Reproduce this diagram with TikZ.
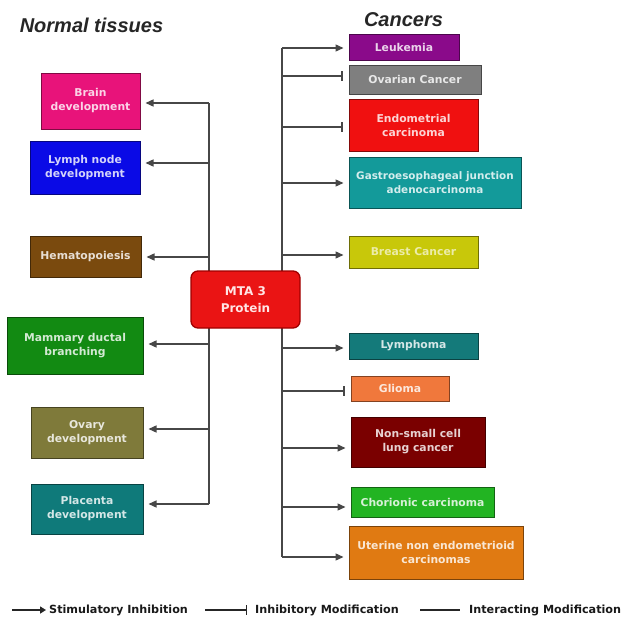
\documentclass[tikz,border=0pt]{standalone}
\usepackage{fontspec}
\setmainfont{DejaVu Sans}
\newfontfamily\titlefont{Liberation Sans}
\usetikzlibrary{arrows.meta}
\definecolor{linec}{HTML}{474747}
\definecolor{cbrain}{HTML}{E8137A}
\definecolor{clymph}{HTML}{0A0AE6}
\definecolor{chemato}{HTML}{7A4A0E}
\definecolor{cmammary}{HTML}{128A12}
\definecolor{covary}{HTML}{7F7A3A}
\definecolor{cplacenta}{HTML}{0F7A7A}
\definecolor{cmta}{HTML}{EA1414}
\definecolor{cmtadark}{HTML}{A00000}
\definecolor{cleuk}{HTML}{8A0A8A}
\definecolor{covarian}{HTML}{7F7F7F}
\definecolor{cendo}{HTML}{F01010}
\definecolor{cgastro}{HTML}{139A9A}
\definecolor{cbreast}{HTML}{C8C80A}
\definecolor{clymphoma}{HTML}{147A7A}
\definecolor{cglioma}{HTML}{F0783C}
\definecolor{cnsclc}{HTML}{7A0000}
\definecolor{cchorio}{HTML}{22B422}
\definecolor{cuterine}{HTML}{E07A12}
\begin{document}
\begin{tikzpicture}[x=1pt,y=-1pt,
  box/.style={fill=#1, draw=#1!55!black, line width=1pt, text=#1!18!white,
    inner sep=0pt, align=center, font=\bfseries\fontsize{10.8}{14}\selectfont},
  conn/.style={draw=linec, line width=1.3pt},
  stim/.style={conn, -{Triangle[length=8pt,width=7pt]}, shorten >=5pt},
  inhib/.style={conn, -{Bar[width=10pt,line width=1.3pt]}, shorten >=6pt},
  title/.style={font=\titlefont\bfseries\itshape\fontsize{20}{23}\selectfont, text=black!85},
  legend/.style={anchor=west, inner sep=0pt, font=\bfseries\fontsize{11.2}{13}\selectfont, text=black!90}
]
\useasboundingbox (0,0) rectangle (624,616);

% trunks
\coordinate (l1) at (209,103);
\coordinate (l2) at (209,163);
\coordinate (l3) at (209,257);
\coordinate (l4) at (209,344);
\coordinate (l5) at (209,429);
\coordinate (l6) at (209,504);
\coordinate (r1) at (282,48);
\coordinate (r2) at (282,76);
\coordinate (r3) at (282,127);
\coordinate (r4) at (282,183);
\coordinate (r5) at (282,255);
\coordinate (r6) at (282,348);
\coordinate (r7) at (282,391);
\coordinate (r8) at (282,448);
\coordinate (r9) at (282,507);
\coordinate (r10) at (282,557);
\draw[conn] (l1) -- (l6);
\draw[conn] (r1) -- (r10);

% titles
\node[title] (tn) at (91.5,25) {Normal tissues};
\node[title] (tc) at (403.5,20) {Cancers};

% left boxes
\node[box=cbrain, minimum width=99pt, minimum height=56pt] (brain) at (90.5,101) {Brain\\development};
\node[box=clymph, minimum width=110pt, minimum height=53pt] (lymph) at (85,167.5) {Lymph node\\development};
\node[box=chemato, minimum width=111pt, minimum height=41pt] (hemato) at (85.5,256.5) {Hematopoiesis};
\node[box=cmammary, minimum width=136pt, minimum height=57pt] (mammary) at (75,345.5) {Mammary ductal\\branching};
\node[box=covary, minimum width=112pt, minimum height=51pt] (ovary) at (87,432.5) {Ovary\\development};
\node[box=cplacenta, minimum width=112pt, minimum height=50pt] (placenta) at (87,509) {Placenta\\development};

% center
\node[box=cmta, draw=cmtadark, text=white!90!red, line width=1.3pt, rounded corners=7pt,
  font=\bfseries\fontsize{12}{17}\selectfont,
  minimum width=109pt, minimum height=57pt] (mta) at (245.5,299.5) {MTA 3\\Protein};

% right boxes
\node[box=cleuk, minimum width=110pt, minimum height=26pt] (leuk) at (404,47) {Leukemia};
\node[box=covarian, minimum width=132pt, minimum height=29pt] (ovarian) at (415,79.5) {Ovarian Cancer};
\node[box=cendo, minimum width=129pt, minimum height=52pt] (endo) at (413.5,125) {Endometrial\\carcinoma};
\node[box=cgastro, font=\bfseries\fontsize{10.4}{14}\selectfont, minimum width=172pt, minimum height=51pt] (gastro) at (435,182.5) {Gastroesophageal junction\\adenocarcinoma};
\node[box=cbreast, text=cbreast!35!white, minimum width=129pt, minimum height=32pt] (breast) at (413.5,252) {Breast Cancer};
\node[box=clymphoma, minimum width=129pt, minimum height=26pt] (lymphoma) at (413.5,346) {Lymphoma};
\node[box=cglioma, minimum width=98pt, minimum height=25pt] (glioma) at (400,388.5) {Glioma};
\node[box=cnsclc, minimum width=134pt, minimum height=50pt] (nsclc) at (418,442) {Non-small cell\\lung cancer};
\node[box=cchorio, minimum width=143pt, minimum height=30pt] (chorio) at (422.5,502) {Chorionic carcinoma};
\node[box=cuterine, minimum width=174pt, minimum height=53pt] (uterine) at (436,552.5) {Uterine non endometrioid\\carcinomas};

% left connectors
\draw[stim] (l1) -- (l1 -| brain.east);
\draw[stim] (l2) -- (l2 -| lymph.east);
\draw[stim] (l3) -- (l3 -| hemato.east);
\draw[stim] (l4) -- (l4 -| mammary.east);
\draw[stim] (l5) -- (l5 -| ovary.east);
\draw[stim] (l6) -- (l6 -| placenta.east);

% right connectors
\draw[stim] (r1) -- (r1 -| leuk.west);
\draw[inhib] (r2) -- (r2 -| ovarian.west);
\draw[inhib] (r3) -- (r3 -| endo.west);
\draw[stim] (r4) -- (r4 -| gastro.west);
\draw[stim] (r5) -- (r5 -| breast.west);
\draw[stim] (r6) -- (r6 -| lymphoma.west);
\draw[inhib] (r7) -- (r7 -| glioma.west);
\draw[stim] (r8) -- (r8 -| nsclc.west);
\draw[stim] (r9) -- (r9 -| chorio.west);
\draw[stim] (r10) -- (r10 -| uterine.west);

% legend
\node[legend] (ls) at (49,610) {Stimulatory Inhibition};
\node[legend] (li) at (255,610) {Inhibitory Modification};
\node[legend] (lm) at (469,610) {Interacting Modification};
\coordinate (ls0) at (12,610);
\coordinate (li0) at (205,610);
\coordinate (lm0) at (420,610);
\draw[black!85, line width=2.6pt, -{Triangle[length=6pt,width=7pt]}, shorten >=3pt] (ls0) -- (ls.west);
\draw[black!85, line width=1.3pt, -{Bar[width=10pt,line width=1.3pt]}, shorten >=8pt] (li0) -- (li.west);
\draw[black!85, line width=2.6pt, shorten >=9pt] (lm0) -- (lm.west);
\end{tikzpicture}
\end{document}
